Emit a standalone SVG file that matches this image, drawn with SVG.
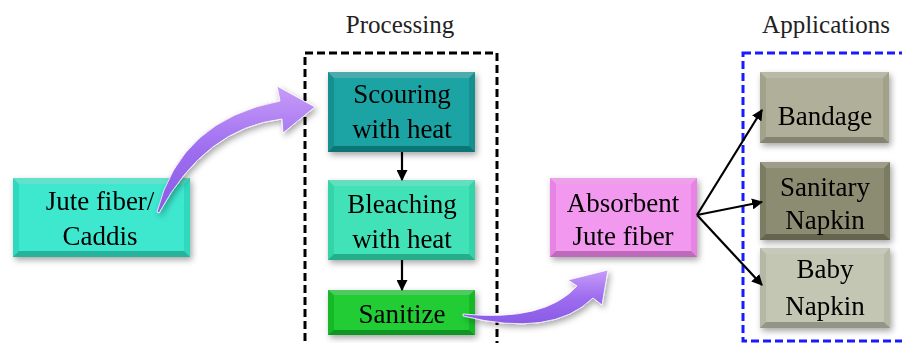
<svg xmlns="http://www.w3.org/2000/svg" width="902" height="343" viewBox="0 0 902 343">
<defs>
<style>
.t{font-family:"Liberation Serif","Times New Roman",serif;font-size:27px;fill:#000;text-anchor:middle}
.title{font-family:"Liberation Serif","Times New Roman",serif;font-size:25px;fill:#222;text-anchor:middle}
.bev{fill:#fff;opacity:0.25}
.bevd{fill:#000;opacity:0.18}
.conn{stroke:#000;stroke-width:2.2;fill:none;marker-end:url(#ah)}
.pur{fill:url(#pg);stroke:#fff;stroke-width:0.8}
</style>
<marker id="ah" viewBox="0 0 10 10" refX="9" refY="5" markerWidth="5" markerHeight="5" orient="auto" markerUnits="strokeWidth">
<path d="M0,0 L10,5 L0,10 Z" fill="#000"/>
</marker>
<linearGradient id="pg" x1="0" y1="0" x2="0" y2="1">
<stop offset="0" stop-color="#c79cf7"/>
<stop offset="0.5" stop-color="#9e6ef0"/>
<stop offset="1" stop-color="#8a5ae6"/>
</linearGradient>
<filter id="sh" x="-20%" y="-20%" width="140%" height="150%">
<feDropShadow dx="2" dy="3" stdDeviation="3" flood-color="#000" flood-opacity="0.35"/>
</filter>
</defs>

<rect width="902" height="343" fill="#fff"/>

<g id="titles">
<text class="title" x="400" y="33">Processing</text>
<text class="title" x="826" y="33">Applications</text>
</g>

<g id="frames">
<rect x="305" y="53" width="192" height="300" fill="none" stroke="#000" stroke-width="3" stroke-dasharray="8,4"/>
<rect x="743" y="53" width="170" height="288" fill="none" stroke="#1a1aff" stroke-width="3" stroke-dasharray="8,4"/>
</g>

<g id="jute" filter="url(#sh)">
<rect x="13" y="178" width="177" height="79" fill="#2ed9bd"/>
<rect x="19" y="184" width="165" height="67" fill="#3ee8cf"/>
<polygon class="bev" points="13,178 190,178 184,184 19,184"/>
<polygon class="bevd" points="13,257 190,257 184,251 19,251"/>
<text class="t" x="100" y="210">Jute fiber/</text>
<text class="t" x="100" y="245">Caddis</text>
</g>

<g id="scouring" filter="url(#sh)">
<rect x="328" y="72" width="147" height="80" fill="#138f8f"/>
<rect x="334" y="78" width="135" height="68" fill="#1ba3a3"/>
<polygon class="bev" points="328,72 475,72 469,78 334,78"/>
<polygon class="bevd" points="328,152 475,152 469,146 334,146"/>
<text class="t" x="402" y="103">Scouring</text>
<text class="t" x="402" y="138">with heat</text>
</g>

<g id="bleaching" filter="url(#sh)">
<rect x="328" y="180" width="147" height="80" fill="#30d4a8"/>
<rect x="334" y="186" width="135" height="68" fill="#42e2b8"/>
<polygon class="bev" points="328,180 475,180 469,186 334,186"/>
<polygon class="bevd" points="328,260 475,260 469,254 334,254"/>
<text class="t" x="402" y="213">Bleaching</text>
<text class="t" x="402" y="248">with heat</text>
</g>

<g id="sanitize" filter="url(#sh)">
<rect x="328" y="290" width="147" height="45" fill="#14b828"/>
<rect x="334" y="295" width="135" height="35" fill="#22cc36"/>
<polygon class="bev" points="328,290 475,290 469,295 334,295"/>
<polygon class="bevd" points="328,335 475,335 469,330 334,330"/>
<text class="t" x="402" y="323">Sanitize</text>
</g>

<g id="absorbent" filter="url(#sh)">
<rect x="550" y="178" width="147" height="79" fill="#e882e4"/>
<rect x="556" y="184" width="135" height="67" fill="#f298ee"/>
<polygon class="bev" points="550,178 697,178 691,184 556,184"/>
<polygon class="bevd" points="550,257 697,257 691,251 556,251"/>
<text class="t" x="623" y="212">Absorbent</text>
<text class="t" x="623" y="245">Jute fiber</text>
</g>

<g id="bandage" filter="url(#sh)">
<rect x="760" y="72" width="129" height="71" fill="#a2a28a"/>
<rect x="766" y="78" width="117" height="59" fill="#b0b09a"/>
<polygon class="bev" points="760,72 889,72 883,78 766,78"/>
<polygon class="bevd" points="760,143 889,143 883,137 766,137"/>
<text class="t" x="825" y="125">Bandage</text>
</g>

<g id="sanitary" filter="url(#sh)">
<rect x="760" y="162" width="130" height="78" fill="#7c7c62"/>
<rect x="766" y="168" width="118" height="66" fill="#8c8c72"/>
<polygon class="bev" points="760,162 890,162 884,168 766,168"/>
<polygon class="bevd" points="760,240 890,240 884,234 766,234"/>
<text class="t" x="825" y="196">Sanitary</text>
<text class="t" x="825" y="229">Napkin</text>
</g>

<g id="baby" filter="url(#sh)">
<rect x="760" y="248" width="130" height="80" fill="#b4b8a4"/>
<rect x="766" y="254" width="118" height="68" fill="#c2c6b2"/>
<polygon class="bev" points="760,248 890,248 884,254 766,254"/>
<polygon class="bevd" points="760,328 890,328 884,322 766,322"/>
<text class="t" x="825" y="278">Baby</text>
<text class="t" x="825" y="315">Napkin</text>
</g>

<g id="connectors">
<line class="conn" x1="402" y1="152" x2="402" y2="180"/>
<line class="conn" x1="402" y1="260" x2="402" y2="290"/>
<line class="conn" x1="697" y1="215" x2="762" y2="110"/>
<line class="conn" x1="697" y1="215" x2="762" y2="202"/>
<line class="conn" x1="697" y1="215" x2="762" y2="285"/>
<path class="pur" filter="url(#sh)" d="M157,212 Q180,120 280,101 L277,86 L315,107 L283,133 L282,119 Q205,128 159,213 Z"/>
<path class="pur" filter="url(#sh)" d="M463,314 Q545,322 577,286 L568,280 L608,270 L602,305 L593,298 Q552,338 463,316 Z"/>
</g>
</svg>
